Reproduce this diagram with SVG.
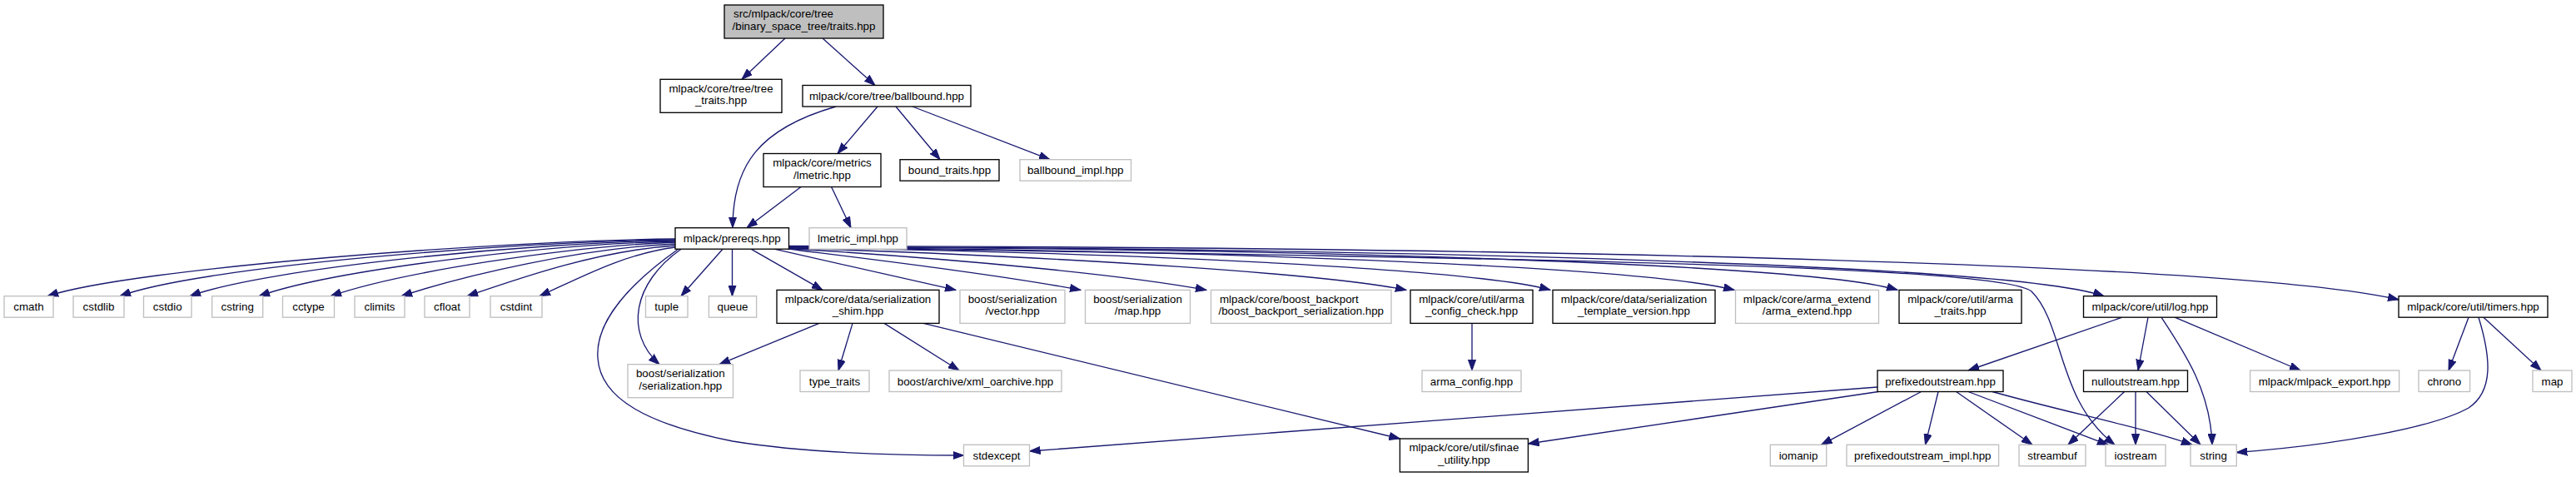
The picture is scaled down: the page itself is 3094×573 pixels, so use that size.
<svg xmlns="http://www.w3.org/2000/svg" width="3094" height="573" viewBox="0 0 3094 573">
<defs>
<marker id="ah" markerUnits="userSpaceOnUse" markerWidth="14" markerHeight="10" refX="13" refY="5" orient="auto">
<path d="M0,0.4 L13,5 L0,9.6 z" fill="#191970" stroke="#191970" stroke-width="1"/>
</marker>
<style>
text { font-family: "Liberation Sans", Arial, sans-serif; font-size: 13.33px; fill: #000; text-anchor: middle; }
text.s { text-anchor: start; }
.b { fill: #fff; stroke: #000; stroke-width: 1.33; }
.g { fill: #fff; stroke: #bfbfbf; stroke-width: 1.33; }
.r { fill: #bfbfbf; stroke: #000; stroke-width: 1.33; }
#edges path { fill: none; stroke: #191970; stroke-width: 1.33; marker-end: url(#ah); }
</style>
</defs>
<rect width="3094" height="573" fill="#fff"/>
<g id="edges">
<path d="M943,46 L891,95.3"/>
<path d="M988,46 L1051,102.5"/>
<path d="M1004,128 C910,155 880,200 880,273.7"/>
<path d="M1054,128 L1006,184.5"/>
<path d="M1076,128 L1129,191.7"/>
<path d="M1096,128 L1261,191.7"/>
<path d="M962,224.5 L897,273.7"/>
<path d="M998.6,224.5 L1022,273.7"/>
<path d="M811,287 C600,289 160,322 57,355.7"/>
<path d="M811,288 C620,290 240,320 144,355.7"/>
<path d="M811,289 C640,291 320,322 228,355.7"/>
<path d="M811,290 C660,293 400,324 311,355.7"/>
<path d="M811,291 C680,296 480,327 397,355.7"/>
<path d="M811,293 C700,298 560,330 482,355.7"/>
<path d="M811,295 C720,301 630,332 561,355.7"/>
<path d="M811,297 C750,305 700,332 648,355.7"/>
<path d="M868,299.2 L818,355.7"/>
<path d="M879.5,299.2 L879.5,355.7"/>
<path d="M902,299.2 L988,348.4"/>
<path d="M818,299.2 C760,340 750,400 792,437.7"/>
<path d="M815,299 C750,345 715,390 718,430 C721,480 780,510 880,530 C960,543 1060,547 1157.5,547"/>
<path d="M930,299.2 L1148,348.4"/>
<path d="M947,299 C1050,312 1200,330 1298,348.4"/>
<path d="M947,298.5 C1150,311 1350,330 1449,348.4"/>
<path d="M947,298 C1300,309 1600,330 1689,348.4"/>
<path d="M947,297.5 C1400,304 1780,325 1862,348.4"/>
<path d="M947,297 C1500,301 1980,322 2083,348.4"/>
<path d="M947,296.5 C1600,299 2180,318 2279,348.4"/>
<path d="M947,296 C1700,299 2420,318 2527,355.7"/>
<path d="M947,295.5 C1900,297 2700,318 2881,360"/>
<path d="M947,297 C1800,310 2400,318 2440,350 C2480,390 2470,480 2540,534.3"/>
<path d="M984,388.4 L864,437.7"/>
<path d="M1024,388.4 L1007,445"/>
<path d="M1062,388.4 L1152,445"/>
<path d="M1109,388.4 L1681.4,527"/>
<path d="M1768,388.4 L1768,445"/>
<path d="M2549,381.2 L2364,445"/>
<path d="M2580,381.2 L2568,445"/>
<path d="M2596,381.2 C2625,425 2655,470 2657,534.3"/>
<path d="M2612,381.2 L2763,445"/>
<path d="M2965,381.2 L2941,445"/>
<path d="M2977,381.2 C2992,430 2995,470 2965,490 C2920,515 2800,535 2686.3,543.5"/>
<path d="M2983,381.2 L3052,445"/>
<path d="M2551.6,470.5 L2484,534.3"/>
<path d="M2565,470.5 L2565,534.3"/>
<path d="M2578,470.5 L2643,534.3"/>
<path d="M2255,465 L1236.6,542"/>
<path d="M2256,470.5 L1835.5,533"/>
<path d="M2307.5,470.5 L2187.5,534.3"/>
<path d="M2328,470.5 L2312.5,534.3"/>
<path d="M2349.6,470.5 L2441,534.3"/>
<path d="M2364,470.5 L2532,534.3"/>
<path d="M2393,470.5 C2480,495 2580,515 2633,534.3"/>
</g>
<g id="n0"><rect class="r" x="870" y="6" width="191" height="40"/><text class="s" x="881" y="21.3">src/mlpack/core/tree</text><text x="965.5" y="36">/binary_space_tree/traits.hpp</text></g>
<g id="n1"><rect class="b" x="793" y="95.3" width="146" height="40"/><text x="866" y="110.6">mlpack/core/tree/tree</text><text x="866" y="125.3">_traits.hpp</text></g>
<g id="n2"><rect class="b" x="964" y="102.5" width="202" height="25.5"/><text x="1065" y="120">mlpack/core/tree/ballbound.hpp</text></g>
<g id="n3"><rect class="b" x="917" y="184.5" width="141" height="40"/><text x="987.5" y="199.8">mlpack/core/metrics</text><text x="987.5" y="214.5">/lmetric.hpp</text></g>
<g id="n4"><rect class="b" x="1081" y="191.7" width="119" height="25.5"/><text x="1140.5" y="209.2">bound_traits.hpp</text></g>
<g id="n5"><rect class="g" x="1225" y="191.7" width="133.5" height="25.5"/><text x="1291.75" y="209.2">ballbound_impl.hpp</text></g>
<g id="n6"><rect class="b" x="811" y="273.7" width="136.5" height="25.5"/><text x="879.25" y="291.2">mlpack/prereqs.hpp</text></g>
<g id="n7"><rect class="g" x="972" y="273.7" width="117" height="25.5"/><text x="1030.5" y="291.2">lmetric_impl.hpp</text></g>
<g id="n8"><rect class="g" x="5" y="355.7" width="59" height="25.5"/><text x="34.5" y="373.2">cmath</text></g>
<g id="n9"><rect class="g" x="88" y="355.7" width="61" height="25.5"/><text x="118.5" y="373.2">cstdlib</text></g>
<g id="n10"><rect class="g" x="172.5" y="355.7" width="57.5" height="25.5"/><text x="201.25" y="373.2">cstdio</text></g>
<g id="n11"><rect class="g" x="254.7" y="355.7" width="61" height="25.5"/><text x="285.2" y="373.2">cstring</text></g>
<g id="n12"><rect class="g" x="339.5" y="355.7" width="62" height="25.5"/><text x="370.5" y="373.2">cctype</text></g>
<g id="n13"><rect class="g" x="426" y="355.7" width="60" height="25.5"/><text x="456" y="373.2">climits</text></g>
<g id="n14"><rect class="g" x="510" y="355.7" width="54" height="25.5"/><text x="537" y="373.2">cfloat</text></g>
<g id="n15"><rect class="g" x="589" y="355.7" width="62" height="25.5"/><text x="620" y="373.2">cstdint</text></g>
<g id="n16"><rect class="g" x="775.5" y="355.7" width="50.5" height="25.5"/><text x="800.75" y="373.2">tuple</text></g>
<g id="n17"><rect class="g" x="851.4" y="355.7" width="57.2" height="25.5"/><text x="880" y="373.2">queue</text></g>
<g id="n18"><rect class="b" x="933" y="348.4" width="195" height="40"/><text x="1030.5" y="363.7">mlpack/core/data/serialization</text><text x="1030.5" y="378.4">_shim.hpp</text></g>
<g id="n19"><rect class="g" x="1153" y="348.4" width="126" height="40"/><text x="1216" y="363.7">boost/serialization</text><text x="1216" y="378.4">/vector.hpp</text></g>
<g id="n20"><rect class="g" x="1303.5" y="348.4" width="126" height="40"/><text x="1366.5" y="363.7">boost/serialization</text><text x="1366.5" y="378.4">/map.hpp</text></g>
<g id="n21"><rect class="g" x="1454.5" y="348.4" width="216.5" height="40"/><text class="s" x="1465" y="363.7">mlpack/core/boost_backport</text><text x="1562.75" y="378.4">/boost_backport_serialization.hpp</text></g>
<g id="n22"><rect class="b" x="1694" y="348.4" width="147" height="40"/><text x="1767.5" y="363.7">mlpack/core/util/arma</text><text x="1767.5" y="378.4">_config_check.hpp</text></g>
<g id="n23"><rect class="b" x="1865" y="348.4" width="195" height="40"/><text x="1962.5" y="363.7">mlpack/core/data/serialization</text><text x="1962.5" y="378.4">_template_version.hpp</text></g>
<g id="n24"><rect class="g" x="2084.5" y="348.4" width="172" height="40"/><text x="2170.5" y="363.7">mlpack/core/arma_extend</text><text x="2170.5" y="378.4">/arma_extend.hpp</text></g>
<g id="n25"><rect class="b" x="2281" y="348.4" width="147" height="40"/><text x="2354.5" y="363.7">mlpack/core/util/arma</text><text x="2354.5" y="378.4">_traits.hpp</text></g>
<g id="n26"><rect class="b" x="2502.5" y="355.7" width="160" height="25.5"/><text x="2582.5" y="373.2">mlpack/core/util/log.hpp</text></g>
<g id="n27"><rect class="b" x="2881" y="355.7" width="179" height="25.5"/><text x="2970.5" y="373.2">mlpack/core/util/timers.hpp</text></g>
<g id="n28"><rect class="g" x="754" y="437.7" width="126.5" height="40"/><text x="817.25" y="453">boost/serialization</text><text x="817.25" y="467.7">/serialization.hpp</text></g>
<g id="n29"><rect class="g" x="961" y="445" width="83" height="25.5"/><text x="1002.5" y="462.5">type_traits</text></g>
<g id="n30"><rect class="g" x="1068" y="445" width="207" height="25.5"/><text x="1171.5" y="462.5">boost/archive/xml_oarchive.hpp</text></g>
<g id="n31"><rect class="g" x="1708" y="445" width="119" height="25.5"/><text x="1767.5" y="462.5">arma_config.hpp</text></g>
<g id="n32"><rect class="b" x="2255" y="445" width="151" height="25.5"/><text x="2330.5" y="462.5">prefixedoutstream.hpp</text></g>
<g id="n33"><rect class="b" x="2502.5" y="445" width="125" height="25.5"/><text x="2565" y="462.5">nulloutstream.hpp</text></g>
<g id="n34"><rect class="g" x="2702.6" y="445" width="179" height="25.5"/><text x="2792" y="462.5">mlpack/mlpack_export.hpp</text></g>
<g id="n35"><rect class="g" x="2905" y="445" width="61.6" height="25.5"/><text x="2935.8" y="462.5">chrono</text></g>
<g id="n36"><rect class="g" x="3042" y="445" width="47" height="25.5"/><text x="3065.5" y="462.5">map</text></g>
<g id="n37"><rect class="g" x="1157.5" y="534.3" width="79" height="25.5"/><text x="1197" y="551.8">stdexcept</text></g>
<g id="n38"><rect class="b" x="1681.4" y="527" width="154" height="40"/><text x="1758.4" y="542.3">mlpack/core/util/sfinae</text><text x="1758.4" y="557">_utility.hpp</text></g>
<g id="n39"><rect class="g" x="2126.3" y="534.3" width="67.4" height="25.5"/><text x="2160" y="551.8">iomanip</text></g>
<g id="n40"><rect class="g" x="2218" y="534.3" width="182.6" height="25.5"/><text x="2309.3" y="551.8">prefixedoutstream_impl.hpp</text></g>
<g id="n41"><rect class="g" x="2425" y="534.3" width="80" height="25.5"/><text x="2465" y="551.8">streambuf</text></g>
<g id="n42"><rect class="g" x="2529" y="534.3" width="72" height="25.5"/><text x="2565" y="551.8">iostream</text></g>
<g id="n43"><rect class="g" x="2631" y="534.3" width="55.3" height="25.5"/><text x="2658.6" y="551.8">string</text></g>
</svg>
